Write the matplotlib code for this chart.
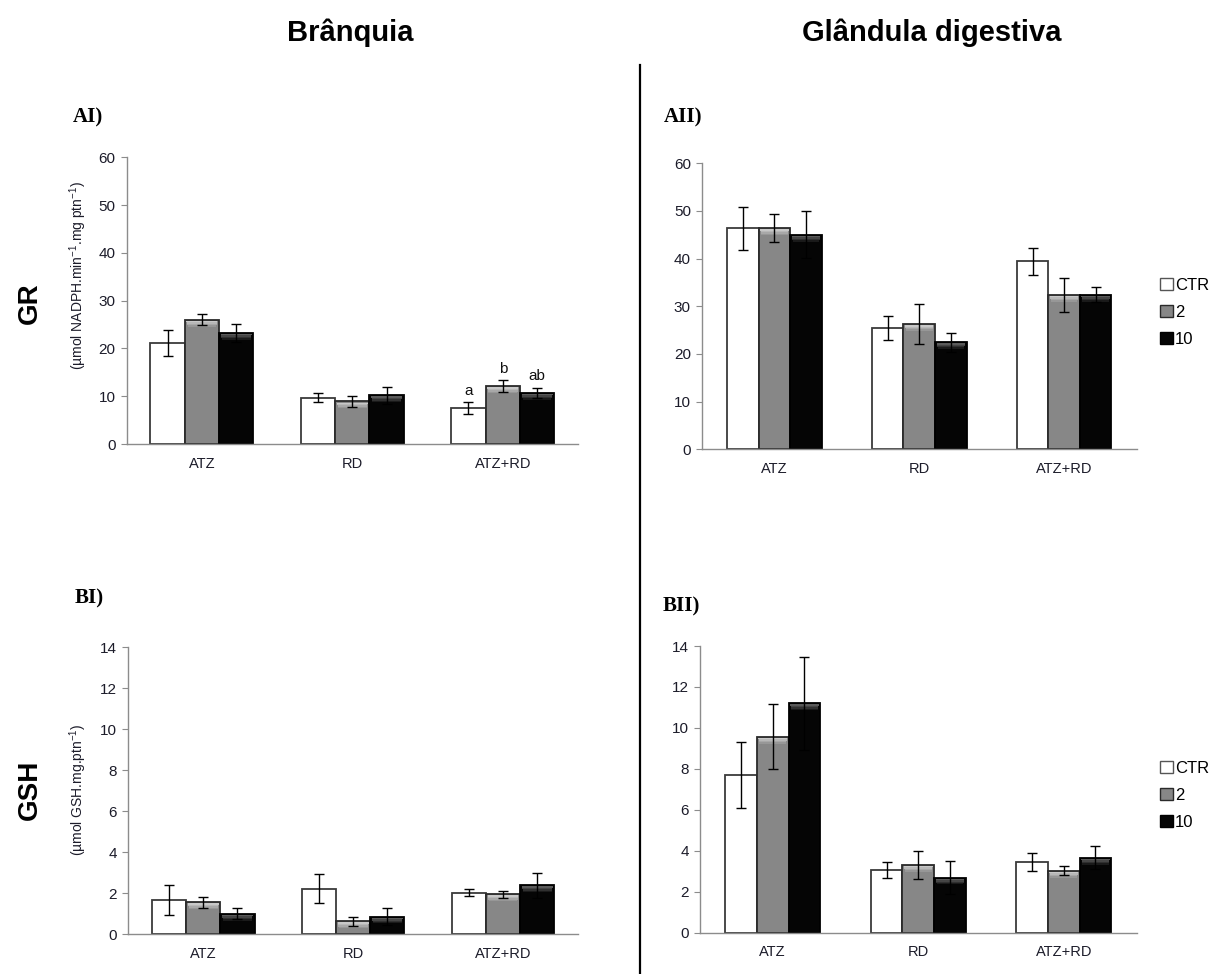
import matplotlib
matplotlib.use("Agg")
import matplotlib.pyplot as plt
from matplotlib.patches import Patch
import matplotlib.colors as mcolors
import numpy as np

plt.rcParams['font.family'] = ['Liberation Sans', 'DejaVu Sans']
plt.rcParams['mathtext.fontset'] = 'custom'
plt.rcParams['mathtext.rm'] = 'Liberation Sans'
plt.rcParams['mathtext.it'] = 'Liberation Sans'

categories = ["ATZ", "RD", "ATZ+RD"]
series = ["CTR", "2", "10"]

# GR - Brânquia (AI)
gr_gill = [[21.1, 9.7, 7.5], [26.0, 8.9, 12.1], [23.3, 10.2, 10.7]]
gr_gill_err = [[2.7, 0.9, 1.3], [1.2, 1.1, 1.3], [1.9, 1.8, 1.1]]
gr_gill_letters = [["", "", "a"], ["", "", "b"], ["", "", "ab"]]

# GR - Glândula digestiva (AII)
gr_dg = [[46.4, 25.5, 39.4], [46.4, 26.3, 32.4], [45.0, 22.5, 32.4]]
gr_dg_err = [[4.5, 2.5, 2.8], [3.0, 4.2, 3.6], [4.9, 2.0, 1.6]]

# GSH - Brânquia (BI)
gsh_gill = [[1.66, 2.21, 2.02], [1.55, 0.62, 1.94], [0.99, 0.85, 2.38]]
gsh_gill_err = [[0.73, 0.72, 0.16], [0.28, 0.22, 0.18], [0.26, 0.40, 0.60]]

# GSH - Glândula digestiva (BII)
gsh_dg = [[7.7, 3.06, 3.45], [9.57, 3.32, 3.03], [11.2, 2.69, 3.66]]
gsh_dg_err = [[1.62, 0.40, 0.42], [1.60, 0.68, 0.21], [2.28, 0.80, 0.57]]

fills = ["#ffffff", "#878787", "#050505"]
edges = ["#3a3a3a", "#2a2a2a", "#000000"]
highlights = [None, "#c8c8c8", "#5a5a5a"]

W, H = 1212, 974
fig = plt.figure(figsize=(W / 100, H / 100), dpi=100)


def make_ax(x0, x1, ytop, ybot):
    return fig.add_axes([x0 / W, 1 - ybot / H, (x1 - x0) / W, (ybot - ytop) / H])


def draw(ax, vals, errs, ymax, step, bw, letters=None):
    x = np.arange(len(categories))
    for i in range(len(series)):
        pos = x + (i - 1) * bw
        v = np.array(vals[i])
        ax.bar(pos, v, bw, color=fills[i], edgecolor=edges[i], linewidth=1.3, zorder=2)
        if highlights[i] is not None:
            nb = 5
            hh = ymax * 0.005
            c0 = np.array(mcolors.to_rgb(highlights[i]))
            c1 = np.array(mcolors.to_rgb(fills[i]))
            for k in range(nb):
                t = k / (nb - 1)
                col = c0 * (1 - t) + c1 * t
                ax.bar(pos, [hh] * len(v), bw * (0.9 - 0.02 * k),
                       bottom=v - ymax * 0.004 - hh * (k + 1),
                       color=col, linewidth=0, zorder=3)
        ax.errorbar(pos, v, yerr=errs[i], fmt='none', ecolor='black',
                    elinewidth=1.0, capsize=3.5, capthick=1.0, zorder=4)
        if letters is not None:
            for j in range(len(categories)):
                if letters[i][j]:
                    ax.annotate(letters[i][j], (pos[j], v[j] + errs[i][j]),
                                xytext=(0, 3), textcoords='offset points',
                                ha='center', va='bottom', fontsize=11, color='#111111')
    ax.set_xlim(-0.5, len(categories) - 0.5)
    ax.set_ylim(0, ymax)
    ax.set_yticks(np.arange(0, ymax + 0.001, step))
    ax.set_xticks(x)
    ax.set_xticklabels(categories)
    for s in ['top', 'right']:
        ax.spines[s].set_visible(False)
    for s in ['left', 'bottom']:
        ax.spines[s].set_color('#8c8c8c')
        ax.spines[s].set_linewidth(1.0)
    ax.tick_params(axis='y', direction='out', length=4, color='#8c8c8c',
                   labelsize=11, labelcolor='#1c1c2a', pad=4)
    ax.tick_params(axis='x', length=0, labelsize=10.5, labelcolor='#1c1c2a', pad=9)


axAI = make_ax(126.7, 578, 157.3, 444)
draw(axAI, gr_gill, gr_gill_err, 60, 10, 0.228, gr_gill_letters)
axAII = make_ax(702, 1136.5, 163.3, 449.3)
draw(axAII, gr_dg, gr_dg_err, 60, 10, 0.218)
axBI = make_ax(128.3, 578, 647.3, 934)
draw(axBI, gsh_gill, gsh_gill_err, 14, 2, 0.228)
axBII = make_ax(700, 1136.5, 646, 932.7)
draw(axBII, gsh_dg, gsh_dg_err, 14, 2, 0.218)

# legends
handles = [Patch(facecolor=fills[i], edgecolor=edges[i] if i else '#555555', linewidth=1.0, label=series[i])
           for i in range(len(series))]
for ytop in (278, 761):
    fig.legend(handles=handles, loc='upper left', bbox_to_anchor=(1160 / W, 1 - ytop / H),
               frameon=False, fontsize=12, handlelength=0.75, handleheight=0.75,
               handletextpad=0.15, labelspacing=0.72, borderpad=0, borderaxespad=0)

# y axis labels
fig.text(78 / W, 1 - 276 / H, r'(µmol NADPH.min$^{-1}$.mg ptn$^{-1}$)', rotation=90,
         ha='center', va='center', fontsize=10, color='#1c1c2a')
fig.text(78 / W, 1 - 790 / H, r'(µmol GSH.mg.ptn$^{-1}$)', rotation=90,
         ha='center', va='center', fontsize=10, color='#1c1c2a')

# row labels
fig.text(30 / W, 1 - 303 / H, 'GR', rotation=90, ha='center', va='center',
         fontsize=20, fontweight='bold')
fig.text(30 / W, 1 - 790 / H, 'GSH', rotation=90, ha='center', va='center',
         fontsize=20, fontweight='bold')

# column titles
fig.text(350 / W, 1 - 33 / H, 'Brânquia', ha='center', va='center', fontsize=21, fontweight='bold')
fig.text(932 / W, 1 - 33 / H, 'Glândula digestiva', ha='center', va='center', fontsize=21, fontweight='bold')

# panel labels
for lab, xl, yc in (("AI)", 73, 117), ("AII)", 664, 117), ("BI)", 75, 598), ("BII)", 663, 606)):
    fig.text(xl / W, 1 - yc / H, lab, ha='left', va='center', fontsize=15,
             fontweight='bold', family='Liberation Serif')

# divider
fig.add_artist(plt.Line2D([640 / W, 640 / W], [0, 1 - 65 / H], color='black', linewidth=1.6))

fig.savefig('out.png', dpi=100)
